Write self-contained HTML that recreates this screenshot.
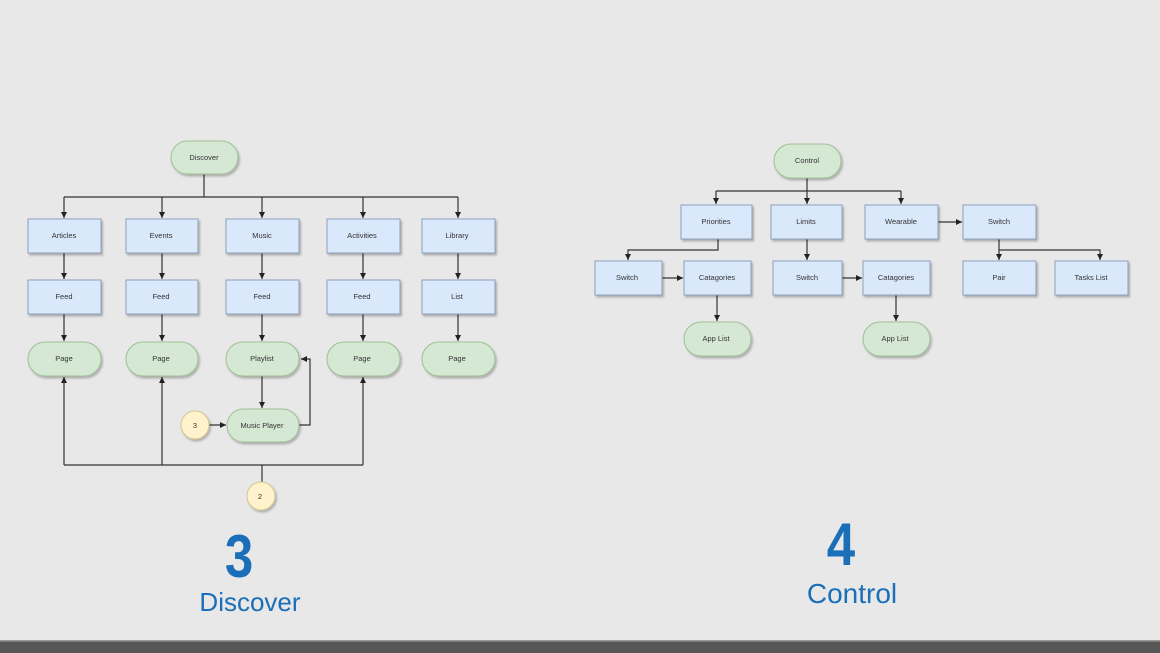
<!DOCTYPE html>
<html><head><meta charset="utf-8"><style>
html,body{margin:0;padding:0;background:#e8e8e8;}
svg{display:block;}
text{font-family:"Liberation Sans",Arial,sans-serif;}
</style></head><body>
<svg width="1160" height="653" viewBox="0 0 1160 653" xmlns="http://www.w3.org/2000/svg">
<defs>
<marker id="a" markerWidth="8" markerHeight="8" refX="6" refY="3.5" orient="auto" markerUnits="userSpaceOnUse">
<path d="M0,0.5 L6,3.5 L0,6.5 z" fill="#222"/></marker>
<filter id="s" x="-10%" y="-10%" width="130%" height="140%"><feDropShadow dx="1.5" dy="2" stdDeviation="1" flood-color="#000" flood-opacity="0.25"/></filter>
</defs>
<rect width="1160" height="653" fill="#e8e8e8"/>
<rect x="0" y="641" width="1160" height="12" fill="#575757"/>
<rect x="0" y="640" width="1160" height="1.5" fill="#9a9a9a"/>

<g fill="none" stroke="#333" stroke-width="1.2">
<path d="M204,174 V197"/>
<path d="M64,197 H458"/>
<path d="M64,197 V218" marker-end="url(#a)"/>
<path d="M162,197 V218" marker-end="url(#a)"/>
<path d="M262,197 V218" marker-end="url(#a)"/>
<path d="M363,197 V218" marker-end="url(#a)"/>
<path d="M458,197 V218" marker-end="url(#a)"/>
<path d="M64,253 V279" marker-end="url(#a)"/>
<path d="M162,253 V279" marker-end="url(#a)"/>
<path d="M262,253 V279" marker-end="url(#a)"/>
<path d="M363,253 V279" marker-end="url(#a)"/>
<path d="M458,253 V279" marker-end="url(#a)"/>
<path d="M64,314 V341" marker-end="url(#a)"/>
<path d="M162,314 V341" marker-end="url(#a)"/>
<path d="M262,314 V341" marker-end="url(#a)"/>
<path d="M363,314 V341" marker-end="url(#a)"/>
<path d="M458,314 V341" marker-end="url(#a)"/>
<path d="M262,376 V408" marker-end="url(#a)"/>
<path d="M209,425 H226" marker-end="url(#a)"/>
<path d="M299,425 H310 V359 H301" marker-end="url(#a)"/>
<path d="M64,465 H363"/>
<path d="M64,465 V377" marker-end="url(#a)"/>
<path d="M162,465 V377" marker-end="url(#a)"/>
<path d="M363,465 V377" marker-end="url(#a)"/>
<path d="M262,465 V482"/>

<path d="M807,178 V191"/>
<path d="M716,191 H901"/>
<path d="M716,191 V204" marker-end="url(#a)"/>
<path d="M807,191 V204" marker-end="url(#a)"/>
<path d="M901,191 V204" marker-end="url(#a)"/>
<path d="M938,222 H962" marker-end="url(#a)"/>
<path d="M718,239 V250 H628 V260" marker-end="url(#a)"/>
<path d="M807,239 V260" marker-end="url(#a)"/>
<path d="M999,239 V260" marker-end="url(#a)"/>
<path d="M999,250 H1100 V260" marker-end="url(#a)"/>
<path d="M662,278 H683" marker-end="url(#a)"/>
<path d="M842,278 H862" marker-end="url(#a)"/>
<path d="M717,295 V321" marker-end="url(#a)"/>
<path d="M896,295 V321" marker-end="url(#a)"/>
</g>

<g filter="url(#s)">
<g fill="#d5e8d4" stroke="#9fbf95" stroke-width="1">
<rect x="171" y="141" width="67" height="33" rx="16.5"/>
<rect x="28" y="342" width="73" height="34" rx="17"/>
<rect x="126" y="342" width="72" height="34" rx="17"/>
<rect x="226" y="342" width="73" height="34" rx="17"/>
<rect x="327" y="342" width="73" height="34" rx="17"/>
<rect x="422" y="342" width="73" height="34" rx="17"/>
<rect x="227" y="409" width="72" height="33" rx="16.5"/>
<rect x="774" y="144" width="67" height="34" rx="17"/>
<rect x="684" y="322" width="67" height="34" rx="17"/>
<rect x="863" y="322" width="67" height="34" rx="17"/>
</g>
<g fill="#dae8fc" stroke="#8e9fbb" stroke-width="1">
<rect x="28" y="219" width="73" height="34"/>
<rect x="126" y="219" width="72" height="34"/>
<rect x="226" y="219" width="73" height="34"/>
<rect x="327" y="219" width="73" height="34"/>
<rect x="422" y="219" width="73" height="34"/>
<rect x="28" y="280" width="73" height="34"/>
<rect x="126" y="280" width="72" height="34"/>
<rect x="226" y="280" width="73" height="34"/>
<rect x="327" y="280" width="73" height="34"/>
<rect x="422" y="280" width="73" height="34"/>
<rect x="681" y="205" width="71" height="34"/>
<rect x="771" y="205" width="71" height="34"/>
<rect x="865" y="205" width="73" height="34"/>
<rect x="963" y="205" width="73" height="34"/>
<rect x="595" y="261" width="67" height="34"/>
<rect x="684" y="261" width="67" height="34"/>
<rect x="773" y="261" width="69" height="34"/>
<rect x="863" y="261" width="67" height="34"/>
<rect x="963" y="261" width="73" height="34"/>
<rect x="1055" y="261" width="73" height="34"/>
</g>
<g fill="#fff2cc" stroke="#d8c68f" stroke-width="1">
<circle cx="195" cy="425" r="14"/>
<circle cx="261" cy="496" r="14"/>
</g>
</g>

<g font-size="7.5" fill="#333" text-anchor="middle">
<text x="204" y="160">Discover</text>
<text x="64" y="238">Articles</text>
<text x="161" y="238">Events</text>
<text x="262" y="238">Music</text>
<text x="362" y="238">Activities</text>
<text x="457" y="238">Library</text>
<text x="64" y="299">Feed</text>
<text x="161" y="299">Feed</text>
<text x="262" y="299">Feed</text>
<text x="362" y="299">Feed</text>
<text x="457" y="299">List</text>
<text x="64" y="361">Page</text>
<text x="161" y="361">Page</text>
<text x="262" y="361">Playlist</text>
<text x="362" y="361">Page</text>
<text x="457" y="361">Page</text>
<text x="262" y="428">Music Player</text>
<text x="195" y="428">3</text>
<text x="260" y="499">2</text>
<text x="807" y="163">Control</text>
<text x="716" y="224">Priorities</text>
<text x="806" y="224">Limits</text>
<text x="901" y="224">Wearable</text>
<text x="999" y="224">Switch</text>
<text x="627" y="280">Switch</text>
<text x="717" y="280">Catagories</text>
<text x="807" y="280">Switch</text>
<text x="896" y="280">Catagories</text>
<text x="999" y="280">Pair</text>
<text x="1091" y="280">Tasks List</text>
<text x="716" y="341">App List</text>
<text x="895" y="341">App List</text>
</g>

<g fill="#1a6fb8" text-anchor="middle">
<text x="239" y="577" font-size="60" font-weight="bold" transform="translate(239 0) scale(0.85 1) translate(-239 0)">3</text>
<text x="250" y="611" font-size="26">Discover</text>
<text x="841" y="565" font-size="60" font-weight="bold" transform="translate(841 0) scale(0.85 1) translate(-841 0)">4</text>
<text x="852" y="603" font-size="28">Control</text>
</g>
</svg>
</body></html>
